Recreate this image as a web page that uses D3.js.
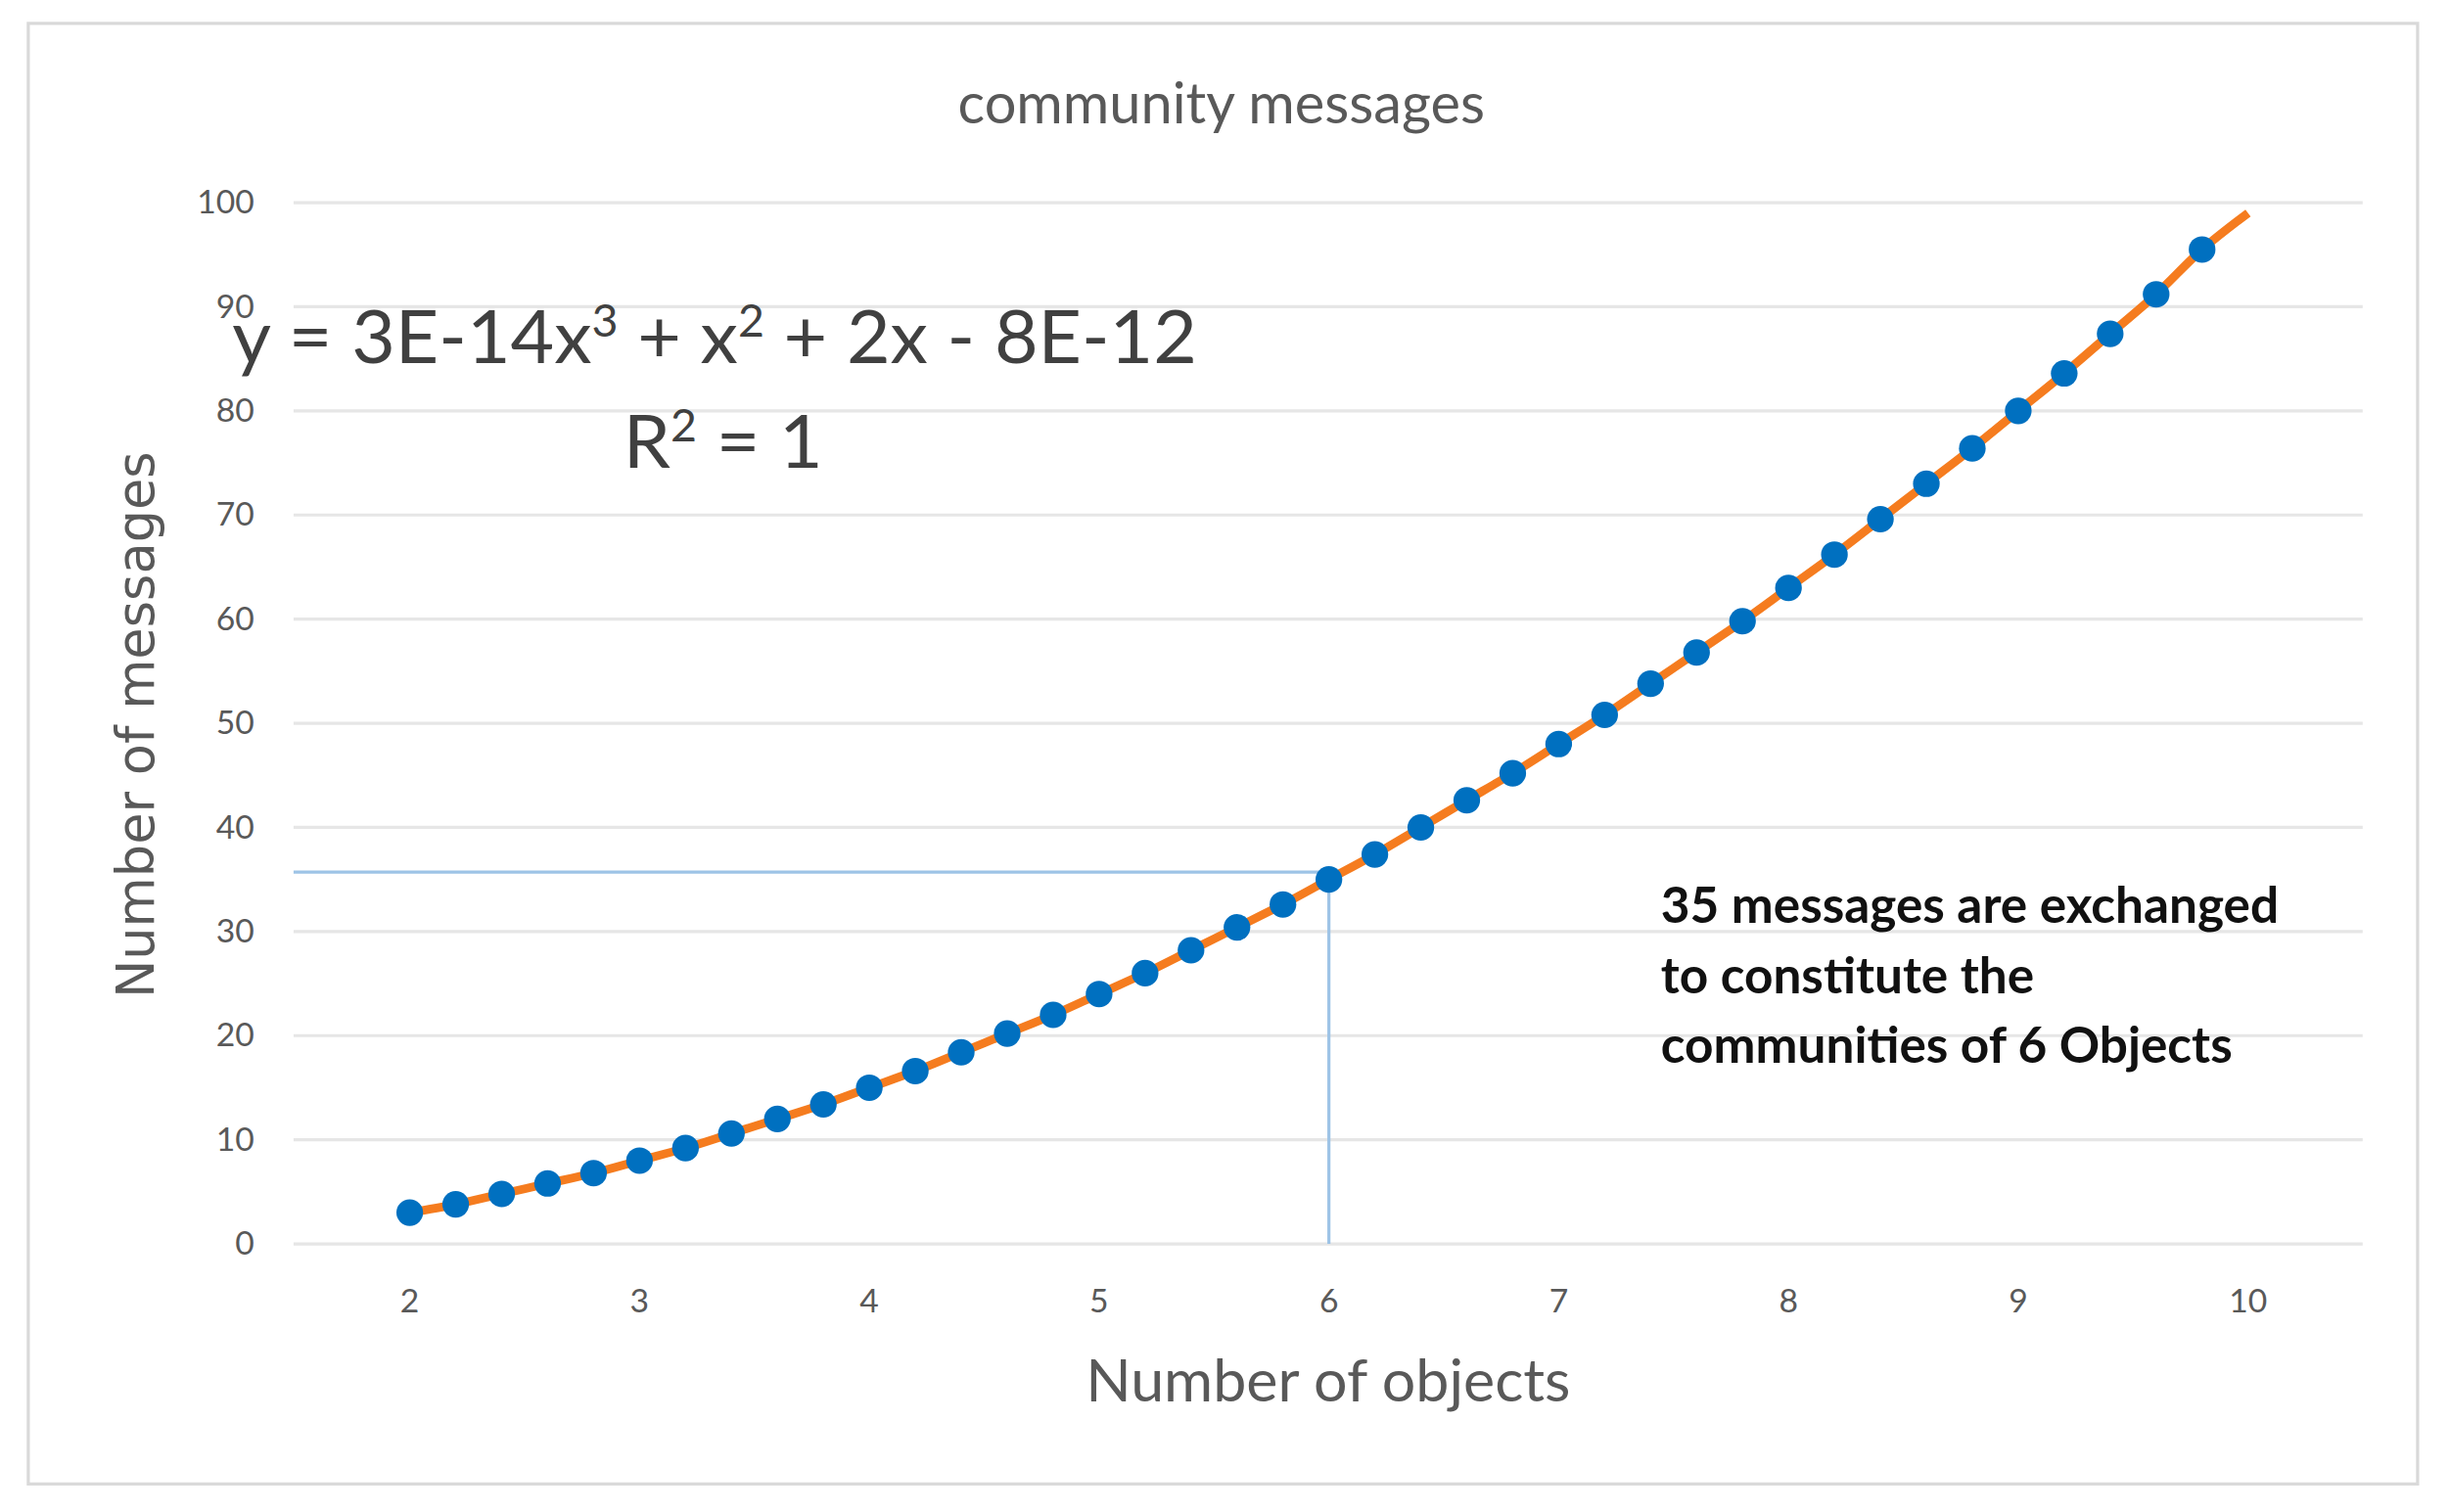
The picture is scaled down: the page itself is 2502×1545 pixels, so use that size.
<!DOCTYPE html>
<html>
<head>
<meta charset="utf-8">
<script src="https://cdn.jsdelivr.net/npm/d3@7"></script>
<style>
  body { margin: 0; background: #fff; }
  text { font-family: Lato, "Open Sans", sans-serif; }
</style>
</head>
<body>
<script>
// values
var xValues = [2, 2.2, 2.4, 2.6, 2.8, 3, 3.2, 3.4, 3.6, 3.8, 4, 4.2, 4.4, 4.6, 4.8, 5, 5.2, 5.4, 5.6, 5.8,
               6, 6.2, 6.4, 6.6, 6.8, 7, 7.2, 7.4, 7.6, 7.8, 8, 8.2, 8.4, 8.6, 8.8, 9, 9.2, 9.4, 9.6, 9.8];
var yValues = [3, 3.8, 4.8, 5.8, 6.8, 8, 9.2, 10.6, 12, 13.4, 15, 16.6, 18.4, 20.2, 22, 24, 26, 28.2, 30.4, 32.6,
               35, 37.4, 40, 42.6, 45.2, 48, 50.8, 53.8, 56.8, 59.8, 63, 66.2, 69.6, 73, 76.4, 80, 83.6, 87.4, 91.2, 95.5];
var trendEnd = [10, 99];
var guide = [6, 35.7];
var xTicks = [2, 3, 4, 5, 6, 7, 8, 9, 10];
var yTicks = [0, 10, 20, 30, 40, 50, 60, 70, 80, 90, 100];
var annotation = ["35 messages are exchanged", "to constitute the", "communities  of 6 Objects"];

var svg = d3.select("body").append("svg")
    .attr("width", 2502).attr("height", 1545)
    .attr("viewBox", "0 0 1560 970")
    .attr("preserveAspectRatio", "none");

svg.append("rect").attr("x", 18).attr("y", 15).attr("width", 1522).attr("height", 937)
    .attr("fill", "#fff").attr("stroke", "#d9d9d9").attr("stroke-width", 2);

var x = d3.scaleLinear().domain([2, 10]).range([261, 1432]);
var y = d3.scaleLinear().domain([0, 100]).range([798, 130]);

// gridlines
svg.append("g").selectAll("line").data(yTicks).enter().append("line")
    .attr("x1", 187).attr("x2", 1505)
    .attr("y1", function(d) { return y(d); }).attr("y2", function(d) { return y(d); })
    .attr("stroke", "#e6e6e6").attr("stroke-width", 2);

// y tick labels
svg.append("g").selectAll("text").data(yTicks).enter().append("text")
    .attr("x", 162).attr("y", function(d) { return y(d) + 7; })
    .attr("text-anchor", "end").attr("font-size", 21).attr("fill", "#595959")
    .text(function(d) { return d; });

// x tick labels
svg.append("g").selectAll("text").data(xTicks).enter().append("text")
    .attr("x", function(d) { return x(d); }).attr("y", 842)
    .attr("text-anchor", "middle").attr("font-size", 21).attr("fill", "#595959")
    .text(function(d) { return d; });

// guide lines
svg.append("line").attr("x1", 187).attr("x2", x(guide[0]))
    .attr("y1", y(guide[1])).attr("y2", y(guide[1]))
    .attr("stroke", "#9dc3e6").attr("stroke-width", 2);
svg.append("line").attr("x1", x(guide[0])).attr("x2", x(guide[0]))
    .attr("y1", y(guide[1])).attr("y2", y(0))
    .attr("stroke", "#9dc3e6").attr("stroke-width", 2);

// trend line
var pts = xValues.map(function(d, i) { return [d, yValues[i]]; });
var trendPts = pts.concat([trendEnd]);
svg.append("path").datum(trendPts)
    .attr("d", d3.line().curve(d3.curveCatmullRom)
        .x(function(d) { return x(d[0]); }).y(function(d) { return y(d[1]); }))
    .attr("fill", "none").attr("stroke", "#f57c1f").attr("stroke-width", 5.5);

// dots
svg.append("g").selectAll("circle").data(pts).enter().append("circle")
    .attr("cx", function(d) { return x(d[0]); }).attr("cy", function(d) { return y(d[1]); })
    .attr("r", 8.5).attr("fill", "#0070c0");

// title
svg.append("text").attr("x", 778).attr("y", 79).attr("text-anchor", "middle")
    .attr("font-size", 36).attr("fill", "#595959").text("community messages");

// axis titles
svg.append("text").attr("x", 846).attr("y", 899).attr("text-anchor", "middle")
    .attr("font-size", 38).attr("fill", "#595959").text("Number of objects");
svg.append("text").attr("transform", "translate(98,465) rotate(-90)")
    .attr("text-anchor", "middle").attr("font-size", 33).attr("fill", "#595959")
    .style("font-family", "'DejaVu Sans', sans-serif")
    .text("Number of messages");

// equation
var eq = svg.append("text").attr("x", 148).attr("y", 233)
    .attr("font-size", 48).attr("fill", "#404040");
eq.append("tspan").text("y = 3E-14x");
eq.append("tspan").attr("dy", -17).attr("font-size", 29).text("3");
eq.append("tspan").attr("dy", 17).text(" + x");
eq.append("tspan").attr("dy", -17).attr("font-size", 29).text("2");
eq.append("tspan").attr("dy", 17).text(" + 2x - 8E-12");
var r2 = svg.append("text").attr("x", 397).attr("y", 300)
    .attr("font-size", 48).attr("fill", "#404040");
r2.append("tspan").text("R");
r2.append("tspan").attr("dy", -17).attr("font-size", 29).text("2");
r2.append("tspan").attr("dy", 17).text(" = 1");

// annotation
svg.append("g").selectAll("text").data(annotation).enter().append("text")
    .attr("x", 1058).attr("y", function(d, i) { return 592 + i * 45; })
    .attr("font-size", 32).attr("font-weight", "bold").attr("fill", "#111")
    .text(function(d) { return d; });
</script>
</body>
</html>
